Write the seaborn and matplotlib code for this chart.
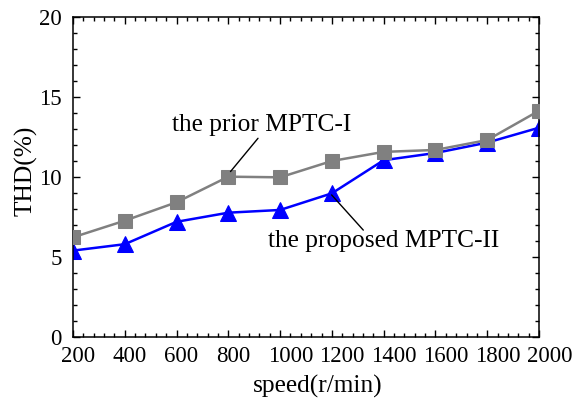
import matplotlib
matplotlib.use("Agg")
import matplotlib.pyplot as plt
import matplotlib.transforms as mtransforms
import seaborn as sns
import pandas as pd
from matplotlib.ticker import MultipleLocator

speed = [200, 400, 600, 800, 1000, 1200, 1400, 1600, 1800, 2000]
thd_prior = [6.23, 7.27, 8.42, 10.02, 9.98, 11.0, 11.57, 11.69, 12.31, 14.14]
thd_proposed = [5.4, 5.8, 7.2, 7.77, 7.94, 8.98, 11.05, 11.5, 12.15, 13.08]
label_prior = "the prior MPTC-I"
label_proposed = "the proposed MPTC-II"

sns.set_theme(style="ticks")
plt.rcParams['font.family'] = ['Liberation Serif', 'DejaVu Serif']

fig = plt.figure(figsize=(5.8, 4.08), dpi=100)
ax = fig.add_axes([73 / 580, 71 / 408, 466 / 580, 320 / 408])

df1 = pd.DataFrame({"speed": speed, "thd": thd_prior})
df2 = pd.DataFrame({"speed": speed, "thd": thd_proposed})
sns.lineplot(data=df2, x="speed", y="thd", ax=ax, color="#0000FF", marker="^",
             markersize=11.5, markeredgecolor="#0000FF", linewidth=1.8, zorder=2)
sns.lineplot(data=df1, x="speed", y="thd", ax=ax, color="#808080", marker="s",
             markersize=9.6, markeredgecolor="#808080", linewidth=1.8, zorder=3)

ax.set_xlim(200, 2000)
ax.set_ylim(0, 20)
ax.xaxis.set_major_locator(MultipleLocator(200))
ax.xaxis.set_minor_locator(MultipleLocator(40))
ax.yaxis.set_major_locator(MultipleLocator(5))
ax.yaxis.set_minor_locator(MultipleLocator(1))
ax.tick_params(which="both", direction="in", top=True, right=True, labelsize=16.5,
               color="black", labelcolor="black")
ax.tick_params(which="major", length=5, width=1)
ax.tick_params(which="minor", length=3, width=1)
ax.tick_params(axis="x", which="major", pad=6.5)
ax.tick_params(axis="y", which="major", pad=8)
for s in ax.spines.values():
    s.set_linewidth(1.1)
    s.set_color("black")

# x tick labels are left-aligned slightly left of their tick
offset = mtransforms.ScaledTranslation(-12.5 / 100, 0, fig.dpi_scale_trans)
for lab in ax.get_xticklabels():
    lab.set_horizontalalignment("left")
    lab.set_transform(lab.get_transform() + offset)

ax.set_xlabel("speed(r/min)", fontsize=18.3, color="black")
ax.set_ylabel("THD(%)", fontsize=18.3, color="black")
ax.xaxis.set_label_coords(0.525, -0.12)
ax.yaxis.set_label_coords(-0.077, 0.519)

ax.text(0.212, 0.645, label_prior, transform=ax.transAxes, fontsize=18.3,
        ha="left", va="baseline", color="black")
ax.annotate("", xy=(0.338, 0.517), xytext=(0.397, 0.621),
            xycoords="axes fraction", textcoords="axes fraction",
            arrowprops=dict(arrowstyle="-", color="black", lw=1,
                            shrinkA=0, shrinkB=0))
ax.text(0.419, 0.282, label_proposed, transform=ax.transAxes, fontsize=18.3,
        ha="left", va="baseline", color="black")
ax.annotate("", xy=(0.555, 0.444), xytext=(0.623, 0.334),
            xycoords="axes fraction", textcoords="axes fraction",
            arrowprops=dict(arrowstyle="-", color="black", lw=1,
                            shrinkA=0, shrinkB=0))

fig.savefig("out.png", dpi=100)
